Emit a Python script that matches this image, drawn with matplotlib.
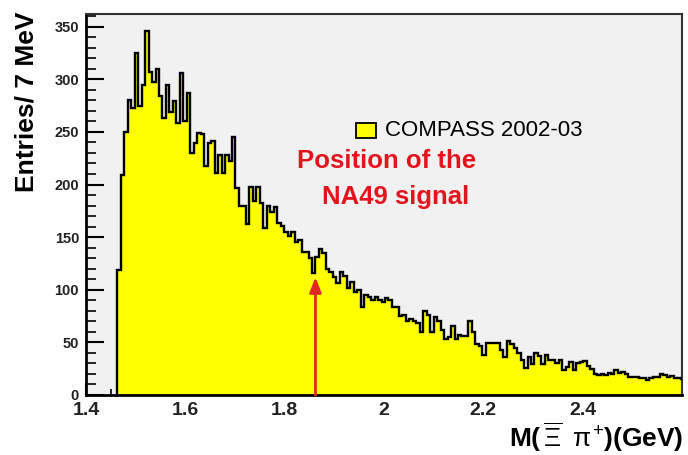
import numpy as np
import matplotlib
matplotlib.use("Agg")
import matplotlib.pyplot as plt
from matplotlib.ticker import MultipleLocator, FixedLocator

# ---------------- data ----------------
bin_start = 1.463      # GeV, first filled bin edge
bin_width = 0.007      # GeV (7 MeV)
counts = [
    119, 209, 250, 280, 273, 325, 275, 295, 346, 307,
    297, 310, 284, 263, 295, 269, 279, 258, 306, 260,
    287, 230, 239, 249, 248, 218, 239, 241, 211, 228,
    211, 228, 222, 245, 197, 180, 180, 162, 198, 184,
    198, 182, 159, 180, 174, 179, 163, 161, 155, 151,
    155, 145, 147, 136, 136, 130, 116, 131, 139, 135,
    120, 117, 112, 106, 117, 113, 102, 107, 98, 100,
    84, 95, 93, 90, 93, 90, 88, 92, 90, 84,
    84, 75, 76, 70, 72, 70, 68, 60, 80, 76,
    60, 74, 70, 62, 53, 55, 66, 53, 57, 56,
    56, 70, 60, 48, 47, 38, 49, 49, 49, 49,
    43, 36, 51, 48, 45, 40, 33, 26, 36, 29,
    40, 37, 29, 38, 33, 33, 30, 33, 24, 27,
    31, 24, 30, 31, 32, 28, 25, 20, 19, 20,
    19, 21, 20, 24, 21, 22, 20, 17, 17, 17,
    16, 16, 14, 16, 17, 17, 20, 19, 17, 18,
    16, 16, 15,
]
na49_mass = 1.862
arrow_top = 112

xticks = [1.4, 1.6, 1.8, 2.0, 2.2, 2.4]
xtick_labels = ["1.4", "1.6", "1.8", "2", "2.2", "2.4"]
yticks = [0, 50, 100, 150, 200, 250, 300, 350]
legend_label = "COMPASS 2002-03"
ylabel = "Entries/ 7 MeV"
xlabel = r"$\mathbf{M(}\,\overline{\Xi}\;\;\pi^{+}\mathbf{)(GeV)}$"
note_lines = ["Position of the", "NA49 signal"]

# ---------------- figure ----------------
W, H = 688, 455
fig = plt.figure(figsize=(W / 100, H / 100), dpi=100)
fig.patch.set_facecolor("white")
plt.rcParams["font.family"] = ["Liberation Sans", "DejaVu Sans"]
plt.rcParams["mathtext.fontset"] = "custom"
plt.rcParams["mathtext.rm"] = "Liberation Sans"
plt.rcParams["mathtext.bf"] = "Liberation Sans:bold"
plt.rcParams["mathtext.it"] = "Liberation Sans"

L, R, T, B = 86, 682, 14, 395
ax = fig.add_axes([L / W, 1 - B / H, (R - L) / W, (B - T) / H])
ax.set_facecolor("#f1f1f1")

counts_arr = np.array(counts, dtype=float)
edges = bin_start + bin_width * np.arange(len(counts_arr) + 1)

ax.stairs(counts_arr, edges, fill=True, color="#ffff00", zorder=2)
ax.stairs(counts_arr, edges, fill=False, color="black", lw=1.7, baseline=0, zorder=3)

ax.set_xlim(1.4, 2.6)
ax.set_ylim(0, 362)

# arrow for NA49 position
ax.annotate("", xy=(na49_mass, arrow_top), xytext=(na49_mass, 0),
            arrowprops=dict(arrowstyle="-|>,head_length=0.9,head_width=0.35",
                            color="#e0281e", lw=2, shrinkA=0, shrinkB=0),
            zorder=4)

# ticks
ax.xaxis.set_major_locator(FixedLocator(xticks))
ax.set_xticklabels(xtick_labels)
ax.xaxis.set_minor_locator(MultipleLocator(0.05))
ax.yaxis.set_major_locator(FixedLocator(yticks))
ax.yaxis.set_minor_locator(MultipleLocator(10))
ax.tick_params(axis="x", which="major", direction="in", length=9, width=1.5,
               labelsize=14, pad=5)
ax.tick_params(axis="x", which="minor", direction="in", length=4, width=1.2)
ax.tick_params(axis="y", which="major", direction="in", length=13, width=1.5,
               labelsize=10.5, pad=5)
ax.tick_params(axis="y", which="minor", direction="in", length=7, width=1.2)
for lab in ax.get_xticklabels() + ax.get_yticklabels():
    lab.set_fontweight("bold")
    lab.set_color("#222222")

for s in ["left", "bottom"]:
    ax.spines[s].set_linewidth(2)
    ax.spines[s].set_color("black")
for s in ["top", "right"]:
    ax.spines[s].set_linewidth(1.5)
    ax.spines[s].set_color("#333333")

# axis titles
fig.text(27 / W, 1 - 12 / H, ylabel, rotation=90, ha="center", va="top",
         fontsize=19, fontweight="bold")
fig.text(683 / W, 1 - 437 / H, xlabel,
         ha="right", va="center", fontsize=19, fontweight="bold")

# legend
lx0, ly0, lw_, lh_ = 356, 123, 20, 15
ax.add_patch(plt.Rectangle((lx0 / W, 1 - (ly0 + lh_) / H), lw_ / W, lh_ / H,
                           transform=fig.transFigure, facecolor="#ffff00",
                           edgecolor="black", lw=1.3, zorder=5))
fig.text(385 / W, 1 - 130.5 / H, legend_label, ha="left", va="center",
         fontsize=16, color="black")

# red note
fig.text(387 / W, 1 - 161 / H, note_lines[0], ha="center", va="center",
         fontsize=18.5, fontweight="bold", color="#e3141e")
fig.text(396 / W, 1 - 197 / H, note_lines[1], ha="center", va="center",
         fontsize=18.5, fontweight="bold", color="#e3141e")

fig.savefig("out.png", dpi=100, facecolor="white")
